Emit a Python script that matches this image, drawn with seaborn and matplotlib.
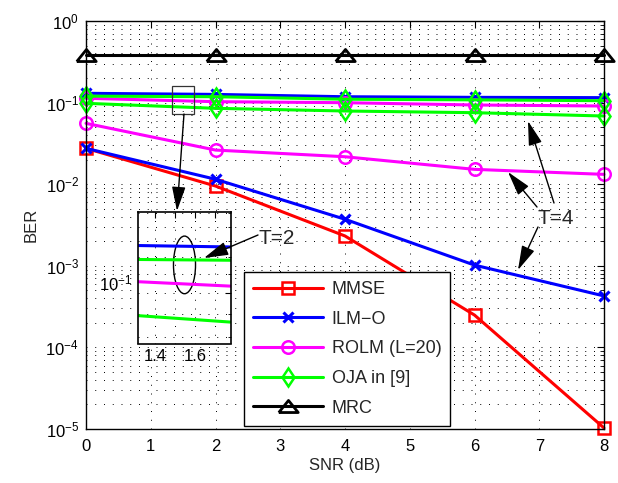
import matplotlib
matplotlib.use("Agg")
import matplotlib.pyplot as plt
import matplotlib.ticker as mticker
from matplotlib.patches import Ellipse, Rectangle
import seaborn as sns
import numpy as np

# ---------------- data ----------------
snr = [0, 2, 4, 6, 8]
mmse = [0.0275, 0.0095, 0.00232, 0.000249, 1.03e-5]
ilmo_t2 = [0.130, 0.126, 0.118, 0.116, 0.115]
ilmo_t4 = [0.0275, 0.0115, 0.00372, 0.00102, 0.000427]
rolm_t2 = [0.113, 0.1026, 0.0997, 0.0935, 0.0908]
rolm_t4 = [0.0557, 0.0262, 0.0217, 0.0152, 0.0132]
oja_t2 = [0.120, 0.118, 0.110, 0.108, 0.1055]
oja_t4 = [0.098, 0.0851, 0.0789, 0.0752, 0.0685]
mrc = [0.383, 0.383, 0.383, 0.383, 0.383]
legend_labels = ["MMSE", "ILM\u2212O", "ROLM (L=20)", "OJA in [9]", "MRC"]
x_ticks = [0, 1, 2, 3, 4, 5, 6, 7, 8]

sns.set_style("white")
plt.rcParams["font.family"] = ["Liberation Sans", "DejaVu Sans"]
plt.rcParams["mathtext.default"] = "regular"
plt.rcParams["axes.unicode_minus"] = True

W, H = 618, 483
fig = plt.figure(figsize=(W / 100, H / 100), dpi=100)
fig.patch.set_facecolor("white")

def px_axes(x0, y0, x1, y1, **kw):
    return fig.add_axes([x0 / W, 1 - y1 / H, (x1 - x0) / W, (y1 - y0) / H], **kw)

ax = px_axes(86, 21, 604, 429)

RED, BLUE, MAG, GRN, BLK = "#ff0000", "#0000ff", "#ff00ff", "#00ff00", "#000000"
tri = [(-1, -0.62), (1, -0.62), (0, 0.62), (-1, -0.62)]

series = [
    (mmse, RED, "s", 8, 1.8),
    (ilmo_t2, BLUE, "x", 6.5, 2.2),
    (ilmo_t4, BLUE, "x", 6.5, 2.2),
    (rolm_t2, MAG, "o", 9, 1.8),
    (rolm_t4, MAG, "o", 9, 1.8),
    (oja_t2, GRN, "d", 9.5, 1.8),
    (oja_t4, GRN, "d", 9.5, 1.8),
    (mrc, BLK, tri, 14, 2.0),
]
lines = []
for vals, c, m, ms, mew in series:
    sns.lineplot(x=snr, y=vals, ax=ax, color=c, marker=m, markersize=ms,
                 markeredgewidth=mew, markeredgecolor=c, markerfacecolor="none",
                 linewidth=2.2, clip_on=False, errorbar=None)
    lines.append(ax.get_lines()[-1])

ax.set_yscale("log")
ax.set_xlim(0, 8)
ax.set_ylim(1e-5, 1)
ax.set_xticks(x_ticks)
ax.yaxis.set_major_locator(mticker.LogLocator(base=10, numticks=10))
ax.yaxis.set_minor_locator(mticker.LogLocator(base=10, subs=np.arange(2, 10), numticks=20))
ax.yaxis.set_minor_formatter(mticker.NullFormatter())
grid_ls = (0, (1, 8))
ax.grid(True, which="major", axis="both", color="k", linestyle=grid_ls, linewidth=0.7)
ax.grid(True, which="minor", axis="y", color="k", linestyle=grid_ls, linewidth=0.7)
ax.tick_params(which="both", direction="in", top=True, right=True, colors="k")
ax.tick_params(which="major", length=5, width=0.8, labelsize=12, pad=7)
ax.tick_params(which="minor", length=3, width=0.6)
ax.tick_params(axis="y", which="major", pad=5)
for s in ax.spines.values():
    s.set_color("k")
    s.set_linewidth(1.0)
ax.set_xlabel("SNR (dB)", fontsize=12, labelpad=3)
ax.set_ylabel("BER", fontsize=12, labelpad=5)

leg_handles = [lines[0], lines[2], lines[4], lines[6], lines[7]]
leg = ax.legend(leg_handles, legend_labels, loc="upper left",
                bbox_to_anchor=(244 / W, 1 - 272 / H), bbox_transform=fig.transFigure,
                fontsize=13, handlelength=3.9, handletextpad=0.45, labelspacing=0.7,
                borderpad=0.5, borderaxespad=0, frameon=True, fancybox=False,
                framealpha=1, edgecolor="k")
leg.get_frame().set_linewidth(1.0)
leg.set_zorder(20)

# ---------------- inset ----------------
axi = px_axes(138, 212.5, 231, 343.5)
axi.set_facecolor("white")
for vals, c in [(ilmo_t2, BLUE), (oja_t2, GRN), (rolm_t2, MAG), (oja_t4, GRN)]:
    sns.lineplot(x=snr, y=vals, ax=axi, color=c, linewidth=2.2, errorbar=None)
axi.set_yscale("log")
axi.set_xlim(1.3135, 1.778)
axi.set_ylim(0.07758, 0.15053)
axi.set_xticks([1.4, 1.5, 1.6, 1.7])
axi.set_xticklabels(["1.4", "", "1.6", ""])
axi.yaxis.set_major_locator(mticker.FixedLocator([0.1]))
axi.yaxis.set_major_formatter(mticker.FixedFormatter([r"$10^{-1}$"]))
axi.yaxis.set_minor_locator(mticker.FixedLocator([0.08, 0.09, 0.11, 0.12, 0.13, 0.14, 0.15]))
axi.yaxis.set_minor_formatter(mticker.NullFormatter())
axi.grid(True, which="major", axis="both", color="k", linestyle=grid_ls, linewidth=0.7)
axi.grid(True, which="minor", axis="y", color="k", linestyle=grid_ls, linewidth=0.7)
axi.tick_params(which="both", direction="in", top=True, right=True, colors="k")
axi.tick_params(which="major", length=4, width=0.8, labelsize=12, pad=4)
axi.tick_params(which="minor", length=2.5, width=0.6)
for lbl in axi.get_yticklabels():
    lbl.set_va("bottom")
for s in axi.spines.values():
    s.set_color("k")
    s.set_linewidth(1.2)
axi.add_patch(Ellipse((0.5, 0.6), 0.237, 0.44, transform=axi.transAxes,
                      fill=False, edgecolor="k", linewidth=1.0))

# ---------------- overlay annotations (pixel coords) ----------------
axo = fig.add_axes([0, 0, 1, 1], zorder=30)
axo.set_xlim(0, W)
axo.set_ylim(H, 0)
axo.axis("off")
axo.patch.set_alpha(0)

axo.add_patch(Rectangle((172, 86), 22, 28, fill=False, edgecolor="#333333", linewidth=0.9))
aprops = dict(arrowstyle="-|>,head_length=1.5,head_width=0.42", color="k",
              lw=1.0, shrinkA=0, shrinkB=0, mutation_scale=10)
axo.annotate("", xy=(177, 211), xytext=(184, 114), arrowprops=aprops)
axo.annotate("", xy=(204, 258), xytext=(258, 235), arrowprops=aprops)
axo.text(277, 238, "T=2", fontsize=15, ha="center", va="center")

axo.text(556, 218, "T=4", fontsize=15, ha="center", va="center")
axo.annotate("", xy=(528, 121), xytext=(554, 203), arrowprops=aprops)
axo.annotate("", xy=(508, 172), xytext=(537, 207), arrowprops=aprops)
axo.annotate("", xy=(518, 270), xytext=(538, 227), arrowprops=aprops)

fig.savefig("out.png", dpi=100, facecolor="white")
